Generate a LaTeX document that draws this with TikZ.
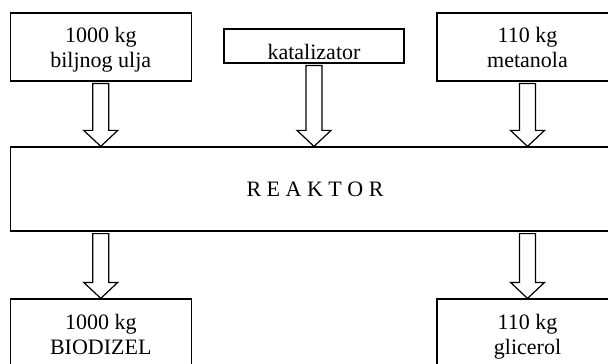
\documentclass[tikz,border=0pt]{standalone}
\usepackage{fontspec}
\setmainfont{Liberation Serif}
\usetikzlibrary{calc}

\begin{document}
\begin{tikzpicture}[
    x=0.5pt, y=-0.5pt,
    font=\fontsize{11}{12.5}\selectfont,
    feedbox/.style={rectangle, draw=black, line width=0.6pt, inner sep=0pt, align=center,
        minimum width=90.5pt, text height=27.5pt, text depth=6.5pt},
    catbox/.style={rectangle, draw=black, line width=0.6pt, inner sep=0pt,
        minimum width=90pt, text height=15.5pt, text depth=1.5pt},
    reactorbox/.style={rectangle, draw=black, line width=0.6pt, minimum width=304.75pt, minimum height=42pt},
    blockarrow/.style={draw=black, line width=0.6pt, fill=white, to path={
        let \p1=(\tikztostart), \p2=(\tikztotarget) in
        (\x1-4pt,\y1) -- (\x1+4pt,\y1) -- (\x1+4pt,\y2+8pt) -- (\x1+8.5pt,\y2+8pt)
        -- (\x1,\y2) -- (\x1-8.5pt,\y2+8pt) -- (\x1-4pt,\y2+8pt) -- cycle}}
]

% Frame
\path[use as bounding box] (0,0) rectangle (608,363);
\clip (0,0) rectangle (608,363);

% === Inputs ===
\node[feedbox] (ulje) at (100.75, 47) {1000 kg\\biljnog ulja};
\node[catbox] (katalizator) at (314, 46) {katalizator};
\node[feedbox] (metanol) at (527.5, 47) {110 kg\\metanola};

% === Reactor ===
\node[reactorbox] (reaktor) at (315, 189) {R E A K T O R};

% === Products ===
\node[feedbox] (biodizel) at (100.75, 333) {1000 kg\\BIODIZEL};
\node[feedbox] (glicerol) at (527.5, 333) {110 kg\\glicerol};

% Arrows in
\draw[blockarrow] ($(ulje.south)+(0,2)$) to (ulje.south |- reaktor.north);
\draw[blockarrow] ($(katalizator.south)+(0,2)$) to (katalizator.south |- reaktor.north);
\draw[blockarrow] ($(metanol.south)+(0,2)$) to (metanol.south |- reaktor.north);

% Arrows out
\draw[blockarrow] ($(reaktor.south -| biodizel.north)+(0,2)$) to (biodizel.north);
\draw[blockarrow] ($(reaktor.south -| glicerol.north)+(0,2)$) to (glicerol.north);

\end{tikzpicture}
\end{document}
